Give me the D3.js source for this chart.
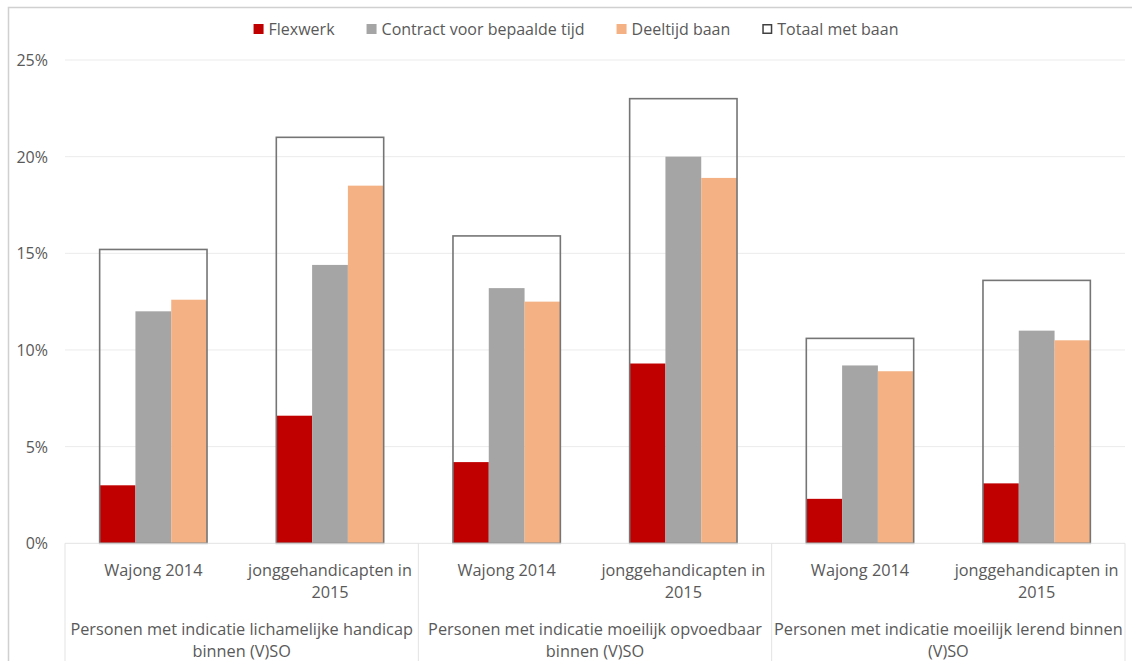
<!DOCTYPE html>
<html>
<head>
<meta charset="utf-8">
<script src="https://cdn.jsdelivr.net/npm/d3@7"></script>
<style>
  html, body { margin: 0; padding: 0; background: #fff; }
  svg { display: block; font-family: "Open Sans", "Noto Sans", sans-serif; }
</style>
</head>
<body>
<svg id="chart" width="1132" height="661"></svg>
<script>
// Share of young people with a job, by type of contract (percent)
const categories = [
  "Wajong 2014", "jonggehandicapten in 2015",
  "Wajong 2014", "jonggehandicapten in 2015",
  "Wajong 2014", "jonggehandicapten in 2015"
];
const categoryLines = [
  ["Wajong 2014"], ["jonggehandicapten in", "2015"],
  ["Wajong 2014"], ["jonggehandicapten in", "2015"],
  ["Wajong 2014"], ["jonggehandicapten in", "2015"]
];
const groupLines = [
  ["Personen met indicatie lichamelijke handicap", "binnen (V)SO"],
  ["Personen met indicatie moeilijk opvoedbaar", "binnen (V)SO"],
  ["Personen met indicatie moeilijk lerend binnen", "(V)SO"]
];
const seriesNames = ["Flexwerk", "Contract voor bepaalde tijd", "Deeltijd baan"];
const totalName = "Totaal met baan";

const flexwerk  = [3.0, 6.6, 4.2, 9.3, 2.3, 3.1];
const contract  = [12.0, 14.4, 13.2, 20.0, 9.2, 11.0];
const deeltijd  = [12.6, 18.5, 12.5, 18.9, 8.9, 10.5];
const totaal    = [15.2, 21.0, 15.9, 23.0, 10.6, 13.6];

const yTicks = [0, 5, 10, 15, 20, 25];

const colors = { "Flexwerk": "#c00000", "Contract voor bepaalde tijd": "#a5a5a5", "Deeltijd baan": "#f4b183" };
const textColor = "#595959";

const seriesValues = [flexwerk, contract, deeltijd];

const svg = d3.select("#chart");
const W = 1132, H = 661;
const plot = { left: 65, right: 1125, top: 60, bottom: 543.3 };

// chart-area frame
svg.append("path")
  .attr("d", `M8.5,${H} V7.5 H${W}`)
  .attr("fill", "none").attr("stroke", "#d0d0d0").attr("stroke-width", 1.5);

const x0 = d3.scaleBand().domain(d3.range(categories.length)).range([plot.left, plot.right]);
const x1 = d3.scaleBand().domain(seriesNames).range([0, x0.bandwidth()]).paddingOuter(0.968);
const y = d3.scaleLinear().domain([0, 25]).range([plot.bottom, plot.top]);

// gridlines
svg.append("g").selectAll("line").data(yTicks.slice(1)).join("line")
  .attr("x1", plot.left).attr("x2", plot.right)
  .attr("y1", d => y(d)).attr("y2", d => y(d))
  .attr("stroke", "#ebebeb").attr("stroke-width", 1);

// y tick labels
svg.append("g").selectAll("text").data(yTicks).join("text")
  .attr("x", 48).attr("y", d => y(d))
  .attr("text-anchor", "end").attr("dominant-baseline", "central")
  .attr("fill", textColor).style("font-size", "16px")
  .text(d => d + "%");

// bars
const groups = svg.append("g").selectAll("g").data(categories).join("g")
  .attr("transform", (d, i) => `translate(${x0(i)},0)`);

groups.each(function (c, i) {
  const g = d3.select(this);
  seriesNames.forEach((s, k) => {
    const v = seriesValues[k][i];
    g.append("rect")
      .attr("x", x1(s)).attr("width", x1.bandwidth())
      .attr("y", y(v)).attr("height", y(0) - y(v))
      .attr("fill", colors[s]);
  });
  // total outline spanning the three bars
  const xs = x1(seriesNames[0]);
  const xe = x1(seriesNames[seriesNames.length - 1]) + x1.bandwidth();
  g.append("rect")
    .attr("x", xs).attr("width", xe - xs)
    .attr("y", y(totaal[i])).attr("height", y(0) - y(totaal[i]))
    .attr("fill", "none").attr("stroke", "#757575").attr("stroke-width", 1.6);
});

// category axis: baseline and group separators
svg.append("line")
  .attr("x1", plot.left).attr("x2", plot.right)
  .attr("y1", plot.bottom).attr("y2", plot.bottom)
  .attr("stroke", "#e3e3e3").attr("stroke-width", 1);

const groupBounds = d3.range(groupLines.length + 1).map(j =>
  j < groupLines.length ? x0(j * 2) : x0(categories.length - 1) + x0.bandwidth());
svg.append("g").selectAll("line").data(groupBounds).join("line")
  .attr("x1", d => d).attr("x2", d => d)
  .attr("y1", plot.bottom).attr("y2", H)
  .attr("stroke", "#e3e3e3").attr("stroke-width", 1);

// inner category labels
svg.append("g").selectAll("text").data(categoryLines).join("text")
  .attr("x", (d, i) => x0(i) + x0.bandwidth() / 2)
  .attr("y", 570)
  .attr("text-anchor", "middle").attr("dominant-baseline", "central")
  .attr("fill", textColor).style("font-size", "16.3px")
  .each(function (lines) {
    d3.select(this).selectAll("tspan").data(lines).join("tspan")
      .attr("x", d3.select(this).attr("x"))
      .attr("dy", (d, k) => k === 0 ? 0 : 22)
      .text(d => d);
  });

// outer group labels
svg.append("g").selectAll("text").data(groupLines).join("text")
  .attr("x", (d, j) => (groupBounds[j] + groupBounds[j + 1]) / 2)
  .attr("y", 629)
  .attr("text-anchor", "middle").attr("dominant-baseline", "central")
  .attr("fill", textColor).style("font-size", "16.3px")
  .each(function (lines) {
    d3.select(this).selectAll("tspan").data(lines).join("tspan")
      .attr("x", d3.select(this).attr("x"))
      .attr("dy", (d, k) => k === 0 ? 0 : 22)
      .text(d => d);
  });

// legend
const legendItems = seriesNames.concat([totalName]);
const legend = svg.append("g");
const sq = 10, sqGap = 5, itemGap = 32;
let cursor = 0;
legendItems.forEach(name => {
  const g = legend.append("g").attr("transform", `translate(${cursor},0)`);
  const isTotal = name === totalName;
  g.append("rect")
    .attr("x", isTotal ? 0.75 : 0).attr("y", isTotal ? -4.25 : -5)
    .attr("width", isTotal ? sq - 1.5 : sq).attr("height", isTotal ? sq - 1.5 : sq)
    .attr("fill", isTotal ? "#fff" : colors[name])
    .attr("stroke", isTotal ? "#404040" : "none").attr("stroke-width", 1.5);
  const t = g.append("text")
    .attr("x", sq + sqGap).attr("y", 0)
    .attr("dominant-baseline", "central")
    .attr("fill", textColor).style("font-size", "16px")
    .text(name);
  cursor += sq + sqGap + t.node().getComputedTextLength() + itemGap;
});
const legendWidth = cursor - itemGap;
legend.attr("transform", `translate(${576 - legendWidth / 2},29)`);
</script>
</body>
</html>
